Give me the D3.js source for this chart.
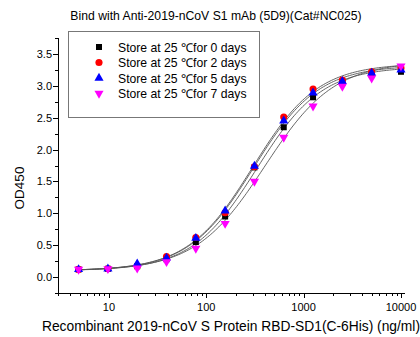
<!DOCTYPE html>
<html><head><meta charset="utf-8">
<script src="https://cdn.jsdelivr.net/npm/d3@7"></script>
<style>
html,body{margin:0;padding:0;background:#fff;}
svg{display:block;font-family:"Liberation Sans",Arial,sans-serif;}
</style></head>
<body><svg id="c" width="420" height="337"></svg>
<script>
const concentrations = [4.88, 9.77, 19.53, 39.06, 78.13, 156.25, 312.5, 625, 1250, 2500, 5000, 10000];
const seriesNames = ["Store at 25 ℃for 0 days","Store at 25 ℃for 2 days","Store at 25 ℃for 5 days","Store at 25 ℃for 7 days"];
const day0 = [0.12, 0.13, 0.17, 0.28, 0.55, 0.95, 1.72, 2.35, 2.82, 3.05, 3.18, 3.22];
const day2 = [0.12, 0.13, 0.17, 0.32, 0.62, 1.01, 1.73, 2.51, 2.95, 3.09, 3.22, 3.28];
const day5 = [0.12, 0.13, 0.21, 0.30, 0.61, 1.04, 1.74, 2.45, 2.89, 3.07, 3.20, 3.25];
const day7 = [0.12, 0.13, 0.14, 0.24, 0.45, 0.84, 1.50, 2.19, 2.68, 2.99, 3.12, 3.31];
// 4-parameter logistic fit parameters
const fitBottom = [0.10, 0.10, 0.10, 0.10];
const fitTop = [3.30, 3.35, 3.32, 3.38];
const fitEC50 = [330, 300, 305, 400];
const fitHill = [1.30, 1.30, 1.30, 1.22];
const xTickLabels = ["10","100","1000","10000"];
const yTickLabels = ["0.0","0.5","1.0","1.5","2.0","2.5","3.0","3.5"];
const colors = ["#000000","#ff0000","#0000ff","#ff00ff"];
const symbols = [d3.symbolSquare, d3.symbolCircle, d3.symbolTriangle, d3.symbolTriangle];
const seriesValues = [day0, day2, day5, day7];

const svg = d3.select("#c");
const L = 58, R = 405, T = 38, B = 293;
const x = d3.scaleLog().domain([3, 11000]).range([L, R]);
const y = d3.scaleLinear().domain([-0.25, 3.75]).range([B, T]);

// title
svg.append("text").attr("x", 216).attr("y", 20).attr("text-anchor","middle")
  .attr("font-size", 12.2).text("Bind with Anti-2019-nCoV S1 mAb (5D9)(Cat#NC025)");

// axes
const ax = svg.append("g").attr("stroke","#000").attr("stroke-width",1);
ax.append("line").attr("x1",L).attr("x2",R).attr("y1",B+0.5).attr("y2",B+0.5);
ax.append("line").attr("x1",L+0.5).attr("x2",L+0.5).attr("y1",T).attr("y2",B);

// x ticks
const xMajor = xTickLabels.map(Number);
const xMinor = [];
for (let d = 1; d <= 10000; d *= 10) for (let m = 2; m <= 9; m++) { const v = d*m; if (v >= 3 && v <= 10000) xMinor.push(v); }
xMinor.forEach(v => ax.append("line").attr("x1",Math.round(x(v))+0.5).attr("x2",Math.round(x(v))+0.5).attr("y1",B).attr("y2",B+3));
xMajor.forEach(v => ax.append("line").attr("x1",Math.round(x(v))+0.5).attr("x2",Math.round(x(v))+0.5).attr("y1",B).attr("y2",B+5));
svg.append("g").selectAll("text").data(xTickLabels).join("text")
  .attr("x", d => x(+d)).attr("y", 311).attr("text-anchor","middle").attr("font-size", 11).text(d => d);

// y ticks
const yMajor = yTickLabels.map(Number);
const yMinor = [-0.25,0.25,0.75,1.25,1.75,2.25,2.75,3.25,3.75];
yMinor.forEach(v => ax.append("line").attr("x1",L-3).attr("x2",L).attr("y1",Math.round(y(v))+0.5).attr("y2",Math.round(y(v))+0.5));
yMajor.forEach(v => ax.append("line").attr("x1",L-5).attr("x2",L).attr("y1",Math.round(y(v))+0.5).attr("y2",Math.round(y(v))+0.5));
svg.append("g").selectAll("text").data(yTickLabels).join("text")
  .attr("x", 52).attr("y", d => y(+d)+4).attr("text-anchor","end").attr("font-size", 11).text(d => d);

// axis titles
svg.append("text").attr("transform","translate(24,188) rotate(-90)").attr("text-anchor","middle")
  .attr("font-size", 13.5).text("OD450");
svg.append("text").attr("x", 231).attr("y", 331).attr("text-anchor","middle")
  .attr("font-size", 13.8).text("Recombinant 2019-nCoV S Protein RBD-SD1(C-6His) (ng/ml)");

// fit curves
const lg = d3.extent(concentrations).map(Math.log10);
const samples = d3.range(0, 201).map(i => Math.pow(10, lg[0] + (lg[1]-lg[0])*i/200));
const line = d3.line().x(d => x(d[0])).y(d => y(d[1]));
seriesValues.forEach((s, i) => {
  const pts = samples.map(c => [c, fitBottom[i] + (fitTop[i]-fitBottom[i]) / (1 + Math.pow(fitEC50[i]/c, fitHill[i]))]);
  svg.append("path").attr("d", line(pts)).attr("fill","none").attr("stroke","#555").attr("stroke-width",0.9);
});

// points
seriesValues.forEach((s, i) => {
  const sym = d3.symbol().type(symbols[i]).size(i===1 ? 40 : 36);
  svg.append("g").selectAll("path").data(s).join("path")
    .attr("d", sym)
    .attr("transform", (d, j) => `translate(${x(concentrations[j])},${y(d)})${i===3 ? " rotate(180)" : ""}`)
    .attr("fill", colors[i]);
});

// legend
const lgBox = svg.append("g");
lgBox.append("rect").attr("x",68.5).attr("y",31.5).attr("width",191).attr("height",86)
  .attr("fill","#fff").attr("stroke","#777").attr("stroke-width",1);
seriesNames.forEach((n, i) => {
  const yy = 47 + i*15.5;
  lgBox.append("path").attr("d", d3.symbol().type(symbols[i]).size(i===1?40:36)())
    .attr("transform", `translate(99,${yy})${i===3 ? " rotate(180)" : ""}`).attr("fill", colors[i]);
  lgBox.append("text").attr("x",118).attr("y",yy+4.5).attr("font-size",12.2).text(n);
});
</script></body></html>
